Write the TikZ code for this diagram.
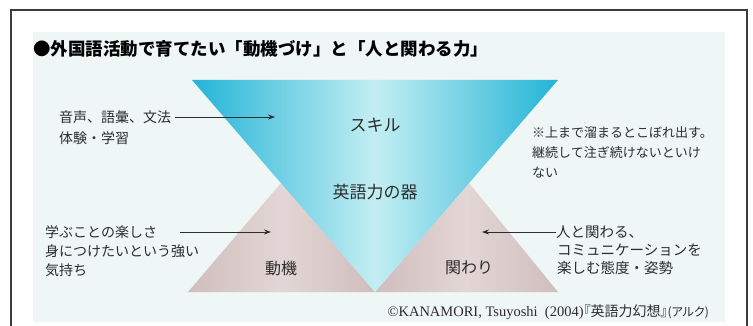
\documentclass[tikz,border=0pt]{standalone}
\usepackage{fontspec}
\setmainfont{Noto Sans CJK JP}
\newfontfamily\jp{Noto Sans CJK JP}
\newfontfamily\jppalt[RawFeature=+palt]{Noto Sans CJK JP}
\newfontfamily\latinserif{Liberation Serif}
\usetikzlibrary{arrows.meta}
\definecolor{bgpale}{RGB}{238,246,246}
\definecolor{framecol}{RGB}{60,60,60}
\definecolor{cyandeep}{RGB}{35,180,215}
\definecolor{cyanlight}{RGB}{195,238,242}
\definecolor{pinkedge}{RGB}{208,189,189}
\definecolor{pinkmid}{RGB}{228,214,214}
\definecolor{txt}{RGB}{45,45,45}
\tikzset{
  lbl/.style={inner sep=0pt, text=txt, font=\jp\fontsize{14}{16}\selectfont},
  lblsm/.style={inner sep=0pt, text=txt, font=\jp\fontsize{13}{15}\selectfont},
  lblright/.style={inner sep=0pt, text=txt, font=\jp\fontsize{14.5}{16}\selectfont},
  big/.style={inner sep=0pt, text=txt, font=\jp\fontsize{17}{19}\selectfont},
  mid/.style={inner sep=0pt, text=txt, font=\jp\fontsize{16}{18}\selectfont},
  arr/.style={draw=txt, line width=0.9pt, -{Stealth[length=7pt,width=5pt]}},
  pinktri/.style={left color=pinkedge, right color=pinkedge, middle color=pinkmid},
}
\begin{document}
\begin{tikzpicture}[x=1pt,y=-1pt]
\useasboundingbox (0,0) rectangle (753,326);
\fill[white] (0,0) rectangle (753,326);
% frame
\draw[framecol, line width=1.6pt] (11,330) -- (11,10) -- (747,10) -- (747,330);
% pale background
\fill[bgpale] (33,32) rectangle (725,322);
% title
\node[anchor=west, inner sep=0pt, text=black, font=\jp\bfseries\fontsize{17.5}{19}\selectfont] (title) at (33,49) {●外国語活動で育てたい「動機づけ」と「人と関わる力」};
% pink triangles
\shade[pinktri] (188,292) -- (281,183) -- (375,292) -- cycle;
\shade[pinktri] (375,292) -- (469,183) -- (558,292) -- cycle;
% blue inverted triangle
\shade[left color=cyandeep, right color=cyandeep, middle color=cyanlight] (192,80) -- (558,80) -- (375,292) -- cycle;
% centre labels
\node[big] (skill) at (375,125) {スキル};
\node[big] (vessel) at (375,192) {英語力の器};
\node[mid] (motiv) at (281,268) {動機};
\node[mid] (kakawari) at (469,268) {関わり};
% top-left labels
\node[lbl, anchor=west] (tl1) at (59,117) {音声、語彙、文法};
\node[lbl, anchor=west] (tl2) at (59,138) {体験・学習};
\coordinate (tlend) at (275,117);
\draw[arr] ([xshift=4pt]tl1.east) -- (tlend);
% note
\node[lblsm, anchor=west] (n1) at (532,133) {※上まで溜まるとこぼれ出す。};
\node[lblsm, anchor=west] (n2) at (532,153) {継続して注ぎ続けないといけ};
\node[lblsm, anchor=west] (n3) at (532,173) {ない};
% bottom-left labels
\node[lbl, anchor=west] (bl1) at (45,232) {学ぶことの楽しさ};
\node[lbl, anchor=west] (bl2) at (45,251) {身につけたいという強い};
\node[lbl, anchor=west] (bl3) at (45,270) {気持ち};
\coordinate (blstart) at (180,232);
\coordinate (blend) at (271,232);
\draw[arr] (blstart) -- (blend);
% bottom-right labels
\node[lblright, anchor=west] (br1) at (556,232) {人と関わる、};
\node[lblright, anchor=west] (br2) at (557,250) {コミュニケーションを};
\node[lblright, anchor=west] (br3) at (557,268) {楽しむ態度・姿勢};
\coordinate (brend) at (482,232);
\draw[arr] (br1.west) -- (brend);
% credit
\node[anchor=east, inner sep=0pt, text=txt] (credit) at (709,312) {{\latinserif\fontsize{14.5}{16}\selectfont ©KANAMORI, Tsuyoshi\ \ (2004)}{\jppalt\fontsize{14}{16}\selectfont 『英語力幻想』}{\jppalt\fontsize{12}{14}\selectfont (アルク)}};
\end{tikzpicture}
\end{document}
